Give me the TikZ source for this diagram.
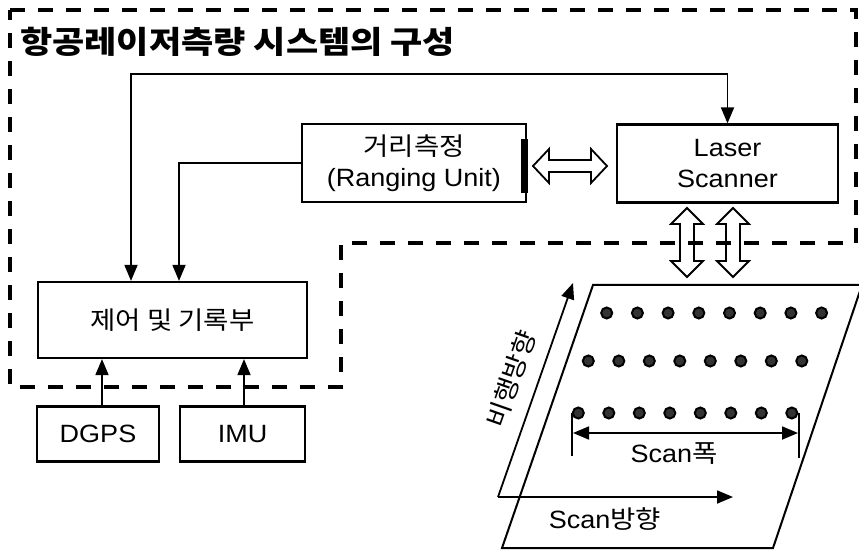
\documentclass[tikz,border=0pt]{standalone}
\usepackage{fontspec}
\setmainfont{Liberation Sans}[FakeStretch=1.08]
\newfontfamily\kr{Noto Sans CJK KR}[FakeStretch=1.1]
\newfontfamily\krtitle{Noto Sans CJK KR}[FakeStretch=1.13]
\usetikzlibrary{arrows.meta}
\tikzset{
  boxnode/.style={draw, line width=2.2pt, inner sep=0pt, align=center, font=\fontsize{25}{31}\selectfont},
  conn/.style={line width=1.8pt, -{Triangle[length=16pt,width=13pt]}},
  conn2/.style={line width=1.8pt, {Triangle[length=16pt,width=13pt]}-{Triangle[length=16pt,width=13pt]}},
  dashbox/.style={line width=3.5pt, dash pattern=on 15pt off 13pt},
  hollow/.style={draw, line width=1.8pt, fill=none, line join=miter},
  dotmark/.style={fill=black!80, draw=black, line width=2pt},
  lbl/.style={inner sep=0pt, font=\fontsize{25}{25}\selectfont}
}
\begin{document}
\begin{tikzpicture}[x=1pt,y=-1pt]
\useasboundingbox (0,0) rectangle (859,553);
\fill[white] (0,0) rectangle (859,553);

% dashed outline
\draw[dashbox] (10,10) -- (856,10) -- (856,243) -- (341,243) -- (341,387) -- (10,387) -- cycle;

% title
\node[anchor=west, inner sep=0pt, font=\krtitle\bfseries\fontsize{31}{31}\selectfont] (title) at (20,42) {항공레이저측량 시스템의 구성};

% boxes
\node[boxnode, minimum width=224pt, minimum height=78pt] (range) at (414,163) {{\kr 거리측정}\\(Ranging Unit)};
\fill (521,139) rectangle (528,193);
\node[boxnode, minimum width=221pt, minimum height=78pt] (scanner) at (727.5,163.5) {Laser\\Scanner};
\node[boxnode, minimum width=269pt, minimum height=76pt, font=\kr\fontsize{25}{25}\selectfont] (ctrl) at (172.5,320) {제어 및 기록부};
\node[boxnode, minimum width=122pt, minimum height=55pt] (dgps) at (98,434) {DGPS};
\node[boxnode, minimum width=125pt, minimum height=55pt] (imu) at (242.5,434) {IMU};

% connectors
\coordinate (c1) at (131,74);
\coordinate (c2) at (727.5,74);
\draw[conn2] ([xshift=-41.5pt]ctrl.north) -- (c1) -- (c2) -- (scanner.north);
\draw[conn] (range.west) -| ([xshift=6.5pt]ctrl.north);
\draw[conn] ([xshift=4pt]dgps.north) -- ([xshift=-70.5pt]ctrl.south);
\draw[conn] ([xshift=1.5pt]imu.north) -- ([xshift=71.5pt]ctrl.south);

% hollow double arrows
\draw[hollow] (533,166) -- (549,149) -- (549,160) -- (591,160) -- (591,149) -- (607,166)
  -- (591,183) -- (591,172) -- (549,172) -- (549,183) -- cycle;
\foreach \cx in {687,733}{
  \draw[hollow] (\cx,208) -- (\cx+16,224) -- (\cx+7,224) -- (\cx+7,261) -- (\cx+16,261) -- (\cx,277)
    -- (\cx-16,261) -- (\cx-7,261) -- (\cx-7,224) -- (\cx-16,224) -- cycle;
}

% ground plane
\draw[line width=2pt, line join=miter] (593,285) -- (862,285) -- (773,548) -- (502,548) -- cycle;

% dots
\foreach \i in {0,...,7}{
  \filldraw[dotmark] (606.7+30.7*\i,313) circle (5.5pt);
  \filldraw[dotmark] (588.3+30.5*\i,361) circle (5.5pt);
  \filldraw[dotmark] (578.3+30.5*\i,413) circle (5.5pt);
}

% scan width
\coordinate (swl) at (573,433);
\coordinate (swr) at (798,433);
\draw[line width=1.8pt] (572,413) -- (572,456);
\draw[line width=1.8pt] (799,413) -- (799,458);
\draw[conn2] (swl) -- (swr);
\node[lbl] (scanw) at (674,454) {Scan{\kr 폭}};

% directions
\coordinate (org) at (498,497);
\coordinate (flytip) at (573,283);
\coordinate (scantip) at (733,497);
\draw[conn] (org) -- (flytip);
\draw[conn] (org) -- (scantip);
\node[lbl, font=\kr\fontsize{25}{25}\selectfont, rotate=70.7] (flylbl) at (511,379) {비행방향};
\node[lbl] (scandir) at (605,519) {Scan{\kr 방향}};
\end{tikzpicture}
\end{document}
